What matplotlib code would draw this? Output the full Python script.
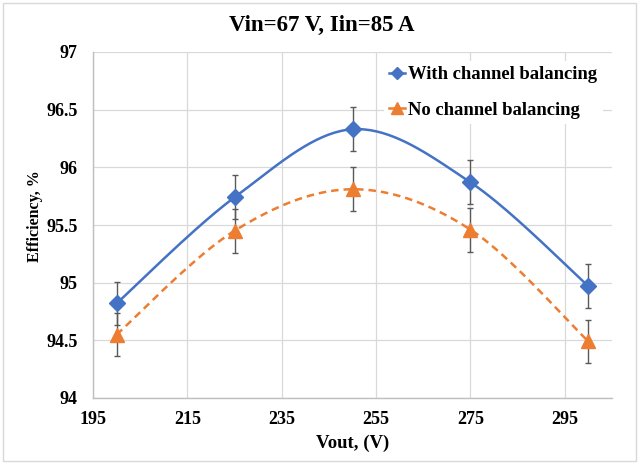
import numpy as np
import matplotlib
matplotlib.use("Agg")
import matplotlib.pyplot as plt
from matplotlib.patches import Rectangle

vout = [200, 225, 250, 275, 300]
with_bal = [94.82, 95.74, 96.33, 95.87, 94.97]
no_bal = [94.55, 95.45, 95.81, 95.46, 94.49]
err_with = [0.19, 0.19, 0.19, 0.19, 0.19]
err_no = [0.19, 0.19, 0.19, 0.19, 0.19]
xticks = [195, 215, 235, 255, 275, 295]
yticks = [94, 94.5, 95, 95.5, 96, 96.5, 97]
ytick_labels = ["94", "94.5", "95", "95.5", "96", "96.5", "97"]

def smooth(x, y, n=40):
    x = np.asarray(x, float); y = np.asarray(y, float)
    P = np.column_stack([x, y])
    out = []
    for i in range(len(P) - 1):
        p0 = P[i - 1] if i > 0 else P[i]
        p1 = P[i]; p2 = P[i + 1]
        p3 = P[i + 2] if i + 2 < len(P) else P[i + 1]
        c1 = p1 + (p2 - p0) / 6.0
        c2 = p2 - (p3 - p1) / 6.0
        t = np.linspace(0, 1, n)[:, None]
        seg = (1 - t) ** 3 * p1 + 3 * (1 - t) ** 2 * t * c1 + 3 * (1 - t) * t ** 2 * c2 + t ** 3 * p2
        out.append(seg if i == 0 else seg[1:])
    S = np.vstack(out)
    return S[:, 0], S[:, 1]

plt.rcParams['font.family'] = ['Liberation Serif', 'DejaVu Serif']
fig = plt.figure(figsize=(6.39, 4.63), dpi=100)
ax = fig.add_axes([93/639, 1 - 398/463, (612 - 93)/639, (398 - 52)/463])

blue = '#4472C4'
orange = '#ED7D31'
sx, sy = smooth(vout, with_bal)
ax.plot(sx, sy, color=blue, lw=1.8, zorder=3)
sx2, sy2 = smooth(vout, no_bal)
ax.plot(sx2, sy2, color=orange, lw=1.8, ls=(0, (3, 2)), zorder=3)

ax.errorbar(vout, with_bal, yerr=err_with, fmt='none', ecolor='#595959', elinewidth=1, capsize=2.5, zorder=4)
ax.errorbar(vout, no_bal, yerr=err_no, fmt='none', ecolor='#595959', elinewidth=1, capsize=2.5, zorder=4)
ax.plot(vout, with_bal, ls='none', marker='D', ms=8, color=blue, zorder=5)
ax.plot(vout, no_bal, ls='none', marker='^', ms=10, color=orange, zorder=5)

h1, = ax.plot([], [], color=blue, lw=1.8, marker='D', ms=6)
h2, = ax.plot([], [], color=orange, lw=1.8, marker='^', ms=8)
leg = ax.legend([h1, h2], ['With channel balancing', 'No channel balancing'],
                loc='upper right', bbox_to_anchor=(1.0, 1.002), frameon=True, framealpha=1,
                edgecolor='none', facecolor='white', handlelength=0.85, handletextpad=0.15,
                labelspacing=1.0, borderpad=0.3,
                prop={'family': 'Liberation Serif', 'weight': 'bold', 'size': 13.4})

ax.set_xlim(195, 305)
ax.set_ylim(94, 97)
ax.set_xticks(xticks)
ax.set_yticks(yticks)
ax.set_yticklabels(ytick_labels)
ax.grid(True, color='#D9D9D9', lw=0.9)
ax.set_axisbelow(True)
for s in ['top', 'right']:
    ax.spines[s].set_visible(False)
for s in ['left', 'bottom']:
    ax.spines[s].set_color('#BFBFBF')
    ax.spines[s].set_linewidth(1)
ax.tick_params(length=0, labelsize=13)
ax.tick_params(axis='x', pad=9)
ax.tick_params(axis='y', pad=11)
for lab in ax.get_xticklabels() + ax.get_yticklabels():
    lab.set_fontweight('bold')

ax.set_xlabel('Vout, (V)', fontsize=13.5, fontweight='bold', labelpad=5)
ax.set_ylabel('Efficiency, %', fontsize=11.5, fontweight='bold')
ax.yaxis.set_label_coords(-0.097, 0.526)
fig.text(322/639, 1 - 25/463, 'Vin=67 V, Iin=85 A', ha='center', va='center',
         fontsize=16.5, fontweight='bold')

fig.patches.append(Rectangle((0.004, 0.004), 0.992, 0.99, transform=fig.transFigure,
                             fill=False, edgecolor='#D9D9D9', lw=1))
fig.savefig('out.png', dpi=100)
